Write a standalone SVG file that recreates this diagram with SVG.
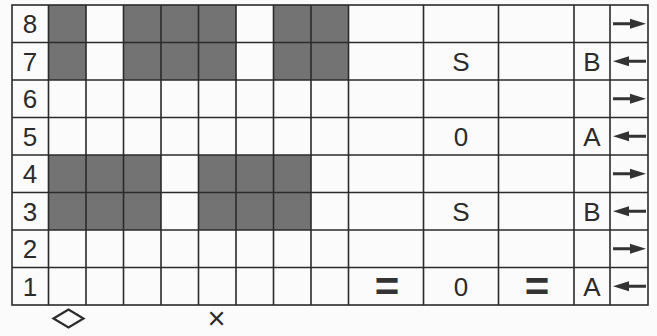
<svg xmlns="http://www.w3.org/2000/svg" width="657" height="336" viewBox="0 0 657 336">
  <style>
    .shade { fill: #737373; }
    .grid { stroke: #2b2b2b; stroke-width: 1.6; fill: none; }
    .lbl { font-family: "Liberation Sans", Arial, sans-serif; font-size: 26px; fill: #2b2b2b; text-anchor: middle; }
    .eq { font-family: "Liberation Sans", Arial, sans-serif; font-size: 42px; font-weight: bold; fill: #333; text-anchor: middle; }
    .arrow { fill: #333; }
  </style>
  <defs>
    <path id="ar" d="M613,-1.5 H630 V-5 L646,0 L630,5 V1.5 H613 Z"/>
  </defs>
  <rect width="657" height="336" fill="#fbfbfb"/>

  <g id="shading">
    <rect class="shade" x="48.5" y="5" width="37.5" height="75"/>
    <rect class="shade" x="123.5" y="5" width="112.5" height="75"/>
    <rect class="shade" x="273.5" y="5" width="75" height="75"/>
    <rect class="shade" x="48.5" y="155" width="112.5" height="75"/>
    <rect class="shade" x="198.5" y="155" width="112.5" height="75"/>
  </g>

  <g id="grid" class="grid">
    <rect x="12" y="5" width="636" height="300"/>
    <path d="M12,42.5 H648 M12,80 H648 M12,117.5 H648 M12,155 H648 M12,192.5 H648 M12,230 H648 M12,267.5 H648"/>
    <path d="M48.5,5 V305 M86,5 V305 M123.5,5 V305 M161,5 V305 M198.5,5 V305 M236,5 V305 M273.5,5 V305 M311,5 V305 M348.5,5 V305 M423.5,5 V305 M498.5,5 V305 M574,5 V305 M610,5 V305"/>
  </g>

  <g id="row-numbers" class="lbl">
    <text x="30" y="33">8</text>
    <text x="30" y="70.5">7</text>
    <text x="30" y="108">6</text>
    <text x="30" y="145.5">5</text>
    <text x="30" y="183">4</text>
    <text x="30" y="220.5">3</text>
    <text x="30" y="258">2</text>
    <text x="30" y="295.5">1</text>
  </g>

  <g id="symbols" class="lbl">
    <text x="461" y="70.5">S</text>
    <text x="592" y="70.5">B</text>
    <text x="461" y="145.5">0</text>
    <text x="592" y="145.5">A</text>
    <text x="461" y="220.5">S</text>
    <text x="592" y="220.5">B</text>
    <text x="461" y="295.5">0</text>
    <text x="592" y="295.5">A</text>
  </g>
  <g id="equals" class="eq">
    <text x="387" y="301">=</text>
    <text x="537" y="301">=</text>
  </g>

  <g id="arrows" class="arrow">
    <use href="#ar" transform="translate(0,23.75)"/>
    <use href="#ar" transform="translate(1259,61.25) scale(-1,1)"/>
    <use href="#ar" transform="translate(0,98.75)"/>
    <use href="#ar" transform="translate(1259,136.25) scale(-1,1)"/>
    <use href="#ar" transform="translate(0,173.75)"/>
    <use href="#ar" transform="translate(1259,211.25) scale(-1,1)"/>
    <use href="#ar" transform="translate(0,248.75)"/>
    <use href="#ar" transform="translate(1259,286.25) scale(-1,1)"/>
  </g>

  <g id="legend">
    <polygon points="53.5,318.5 68.5,309.5 83.5,318.5 68.5,327.5" fill="none" stroke="#2b2b2b" stroke-width="2.2"/>
    <text x="216.5" y="328.5" class="lbl" style="font-size:31px">×</text>
  </g>
</svg>
